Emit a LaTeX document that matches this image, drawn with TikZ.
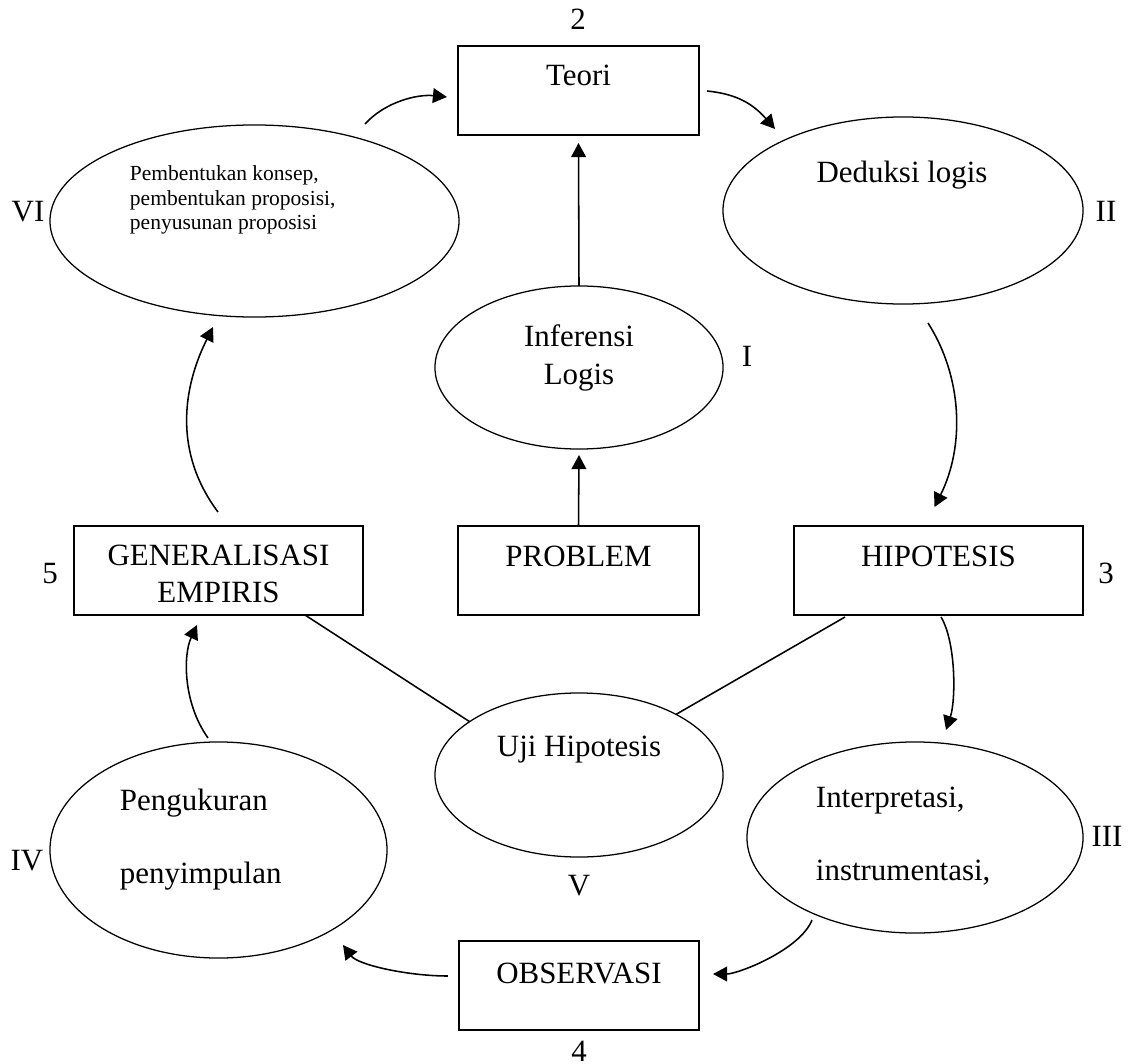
\documentclass[tikz,border=0pt]{standalone}
\usepackage{fontspec}
\setmainfont{Liberation Serif}
\usetikzlibrary{shapes.geometric,arrows.meta}

\begin{document}
\begin{tikzpicture}[
    x=0.025cm, y=-0.025cm,
    every node/.style={font=\fontsize{22}{26.5}\selectfont},
    box/.style={rectangle, draw, line width=1.3pt, minimum height=2.225cm, inner sep=0pt, outer sep=0pt},
    oval/.style={ellipse, draw, line width=0.9pt, inner sep=0pt, outer sep=0pt},
    arrow/.style={-{Triangle[length=10pt,width=10.5pt]}, line width=1.1pt},
    link/.style={line width=1.1pt}
]
    \useasboundingbox (0,0) rectangle (1131,1064);

    % boxes
    \node[box, minimum width=6.025cm] (teori) at (578.5,90.5) {};
    \node[box, minimum width=6.025cm] (problem) at (578.5,570.5) {};
    \node[box, minimum width=7.225cm] (gen) at (218.5,570.5) {};
    \node[box, minimum width=7.225cm] (hip) at (938.5,570.5) {};
    \node[box, minimum width=6cm] (obs) at (579,985.5) {};

    % ellipses
    \node[oval, minimum width=10.225cm, minimum height=4.8cm] (vi) at (254.5,221) {};
    \node[oval, minimum width=9cm, minimum height=4.675cm] (ded) at (903,210.5) {};
    \node[oval, minimum width=7.2cm, minimum height=4.075cm] (inf) at (579,367.5) {};
    \node[oval, minimum width=7.2cm, minimum height=4.1cm] (uji) at (579,775) {};
    \node[oval, minimum width=8.425cm, minimum height=5.4cm] (peng) at (218.5,850) {};
    \node[oval, minimum width=8.4cm, minimum height=4.775cm] (interp) at (915,837.5) {};

    % texts (base of a multi-line text is its last line)
    \node[anchor=base] (teoritxt) at (578.5,86) {Teori};
    \node[anchor=base] (problemtxt) at (578.5,566) {PROBLEM};
    \node[anchor=base, align=center, font=\fontsize{22}{26.2}\selectfont] (gentxt) at (218.5,602) {GENERALISASI\\EMPIRIS};
    \node[anchor=base] (hiptxt) at (938.5,566) {HIPOTESIS};
    \node[anchor=base] (obstxt) at (579,983) {OBSERVASI};
    \node[anchor=base west, align=left, font=\fontsize{15.3}{17.7}\selectfont] (vitxt) at (125,230)
        {Pembentukan konsep,\\pembentukan proposisi,\\penyusunan proposisi};
    \node[anchor=base] (dedtxt) at (902,183) {Deduksi logis};
    \node[anchor=base, align=center, font=\fontsize{22}{26.9}\selectfont] (inftxt) at (579,384) {Inferensi\\Logis};
    \node[anchor=base] (ujitxt) at (579,756) {Uji Hipotesis};
    \node[anchor=base west, align=left, font=\fontsize{22}{51.7}\selectfont] (pengtxt) at (115,883) {Pengukuran\\penyimpulan};
    \node[anchor=base west, align=left, font=\fontsize{22}{51.7}\selectfont] (interptxt) at (811,880) {Interpretasi,\\instrumentasi,};

    % numbers
    \node[anchor=base] (n2) at (578,30) {2};
    \node[anchor=base] (n3) at (1106,583) {3};
    \node[anchor=base] (n4) at (579,1061) {4};
    \node[anchor=base] (n5) at (50,583) {5};
    \node[anchor=base] (r1) at (747,366) {I};
    \node[anchor=base] (r2) at (1106,222) {II};
    \node[anchor=base] (r3) at (1107,846) {III};
    \node[anchor=base] (r4) at (27,870) {IV};
    \node[anchor=base] (r5) at (579,895) {V};
    \node[anchor=base] (r6) at (28,222) {VI};

    % straight arrows
    \draw[arrow] (inf.north) -- ([shift={(0,8)}]teori.south);
    \draw[arrow] (problem.north) -- ([shift={(0,6)}]inf.south);

    % curved arrows round the cycle
    \draw[arrow] ([shift={(110.5,-1)}]vi.north) .. controls +(20,-22) and +(-30,-3) .. ([shift={(-11,6.5)}]teori.west);
    \draw[arrow] ([shift={(8,0.5)}]teori.east) .. controls +(30,3) and +(-22,-25) .. ([shift={(-128,12)}]ded.north);
    \draw[arrow] ([shift={(25,19)}]ded.south) .. controls +(35,55) and +(30,-60) .. ([shift={(-4,-19)}]hip.north);
    \draw[arrow] ([shift={(2.5,2)}]hip.south) .. controls +(15,25) and +(10,-30) .. ([shift={(31,-12)}]interp.north);
    \draw[arrow] ([shift={(-103,-13)}]interp.south) .. controls +(-12,30) and +(25,0) .. ([shift={(14,-11.5)}]obs.east);
    \draw[arrow] ([shift={(-11,-9.5)}]obs.west) .. controls +(-40,0) and +(15,20) .. ([shift={(124.5,95)}]peng.center);
    \draw[arrow] ([shift={(-10.5,-4)}]peng.north) .. controls +(-25,-35) and +(-14,30) .. ([shift={(-21.5,10)}]gen.south);
    \draw[arrow] ([shift={(-0.5,-14)}]gen.north) .. controls +(-45,-60) and +(-30,60) .. ([shift={(-41.5,10)}]vi.south);

    % lines to the test of hypotheses
    \draw[link] ([shift={(86.5,0)}]gen.south) -- (uji.154);
    \draw[link] ([shift={(-93.5,2)}]hip.south) -- (uji.32);
\end{tikzpicture}
\end{document}
